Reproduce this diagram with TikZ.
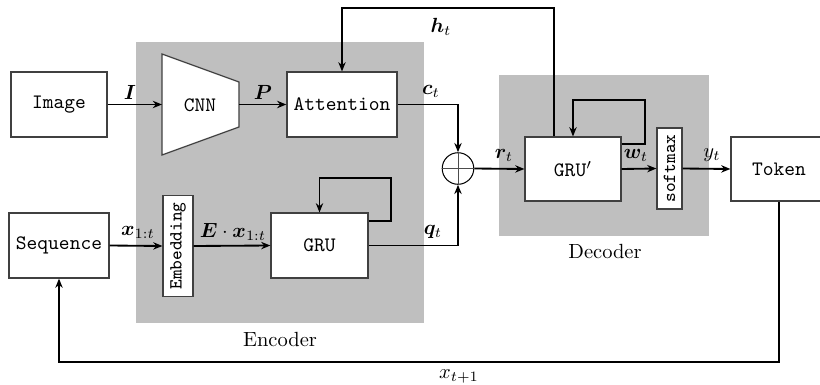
\documentclass[tikz,border=0pt]{standalone}
\usepackage{bm}
\usetikzlibrary{arrows.meta,calc}
\begin{document}
\begin{tikzpicture}[x=0.4878pt,y=-0.4878pt,
  box/.style={draw=black!75,line width=0.6pt,fill=white,inner sep=0pt,font=\ttfamily},
  arr/.style={line width=0.9pt,-{Stealth[length=4.5pt,width=3.6pt]}},
  ln/.style={line width=0.9pt},
  lbl/.style={inner sep=0pt},
  bg/.style={fill=black!25,draw=none}]
\useasboundingbox (0,0) rectangle (820,385);
% backgrounds
\fill[bg] (136,42) rectangle (424,323);
\fill[bg] (499,75) rectangle (709,236);
\node[lbl] (enc) at (280,339) {Encoder};
\node[lbl] (dec) at (605,251) {Decoder};
% nodes
\node[box,minimum width=46.8pt,minimum height=31.7pt] (img) at (59,104.5) {Image};
\draw[draw=black!75,line width=0.6pt,fill=white] (162,54) -- (239,82) -- (239,127) -- (162,155) -- cycle;
\node[lbl,font=\ttfamily] (cnn) at (200,105) {CNN};
\coordinate (cnnin) at (162,104.5);
\coordinate (cnnout) at (239,104.5);
\node[box,minimum width=53.7pt,minimum height=31.7pt] (att) at (342,104.5) {Attention};
\node[box,minimum width=48.8pt,minimum height=31.7pt] (seq) at (59,245.5) {Sequence};
\node[box,minimum width=14.6pt,minimum height=49pt] (emb) at (178,246) {};
\node[lbl,rotate=90,font=\small\ttfamily] at (emb.center) {Embedding};
\node[box,minimum width=47.3pt,minimum height=31.7pt] (gru) at (319.5,245.5) {GRU};
\node[draw=black,line width=0.5pt,circle,minimum size=15.4pt,inner sep=0pt] (plus) at (458,168.5) {};
\draw[line width=0.4pt,black!70] (plus.north) -- (plus.south) (plus.west) -- (plus.east);
\node[box,minimum width=46.8pt,minimum height=31.2pt] (grup) at (573,169) {GRU$'$};
\node[box,minimum width=12.2pt,minimum height=39.5pt] (soft) at (669.5,168.5) {};
\node[lbl,rotate=90,font=\small\ttfamily] at (soft.center) {softmax};
\node[box,minimum width=46.8pt,minimum height=31.2pt] (tok) at (779,169) {Token};
% coordinates
\coordinate (htop) at (554,8);
\coordinate (gl) at (645,100);
\coordinate (gl2) at (391,178);
\coordinate (bot) at (0,362);
% connectors
\draw[arr] (img.east) -- (cnnin);
\draw[arr] (cnnout) -- (att.west);
\draw[arr] (att.east) -| (plus.north);
\draw[arr] (gru.east) -| (plus.south);
\draw[arr] (plus.east) -- (grup.west);
\draw[arr] (htop |- grup.north) -- (htop) -| (att.north);
\draw[arr] ([yshift=-3.9pt]grup.north east) -| (gl) -| (grup.north);
\draw[arr] ([yshift=-4.4pt]gru.north east) -| (gl2) -| (gru.north);
\draw[arr] (grup.east) -- (soft.west);
\draw[arr] (soft.east) -- (tok.west);
\draw[arr] (seq.east) -- (emb.west);
\draw[arr] (emb.east) -- (gru.west);
\draw[arr] (tok.south) -- (tok.south |- bot) -| (seq.south);
% labels
\node[lbl] (lI) at (130,92) {$\bm{I}$};
\node[lbl] (lP) at (263,92) {$\bm{P}$};
\node[lbl] (lc) at (431,91) {$\bm{c}_t$};
\node[lbl] (lh) at (441,27) {$\bm{h}_t$};
\node[lbl] (lr) at (504,155) {$\bm{r}_t$};
\node[lbl] (lw) at (636,155) {$\bm{w}_t$};
\node[lbl] (ly) at (712,155) {$y_t$};
\node[lbl] (lx) at (138,232) {$\bm{x}_{1:t}$};
\node[lbl] (lE) at (233,232) {$\bm{E}\cdot\bm{x}_{1:t}$};
\node[lbl] (lq) at (433,232) {$\bm{q}_t$};
\node[lbl] (lx1) at (459,376) {$x_{t+1}$};
\end{tikzpicture}
\end{document}
